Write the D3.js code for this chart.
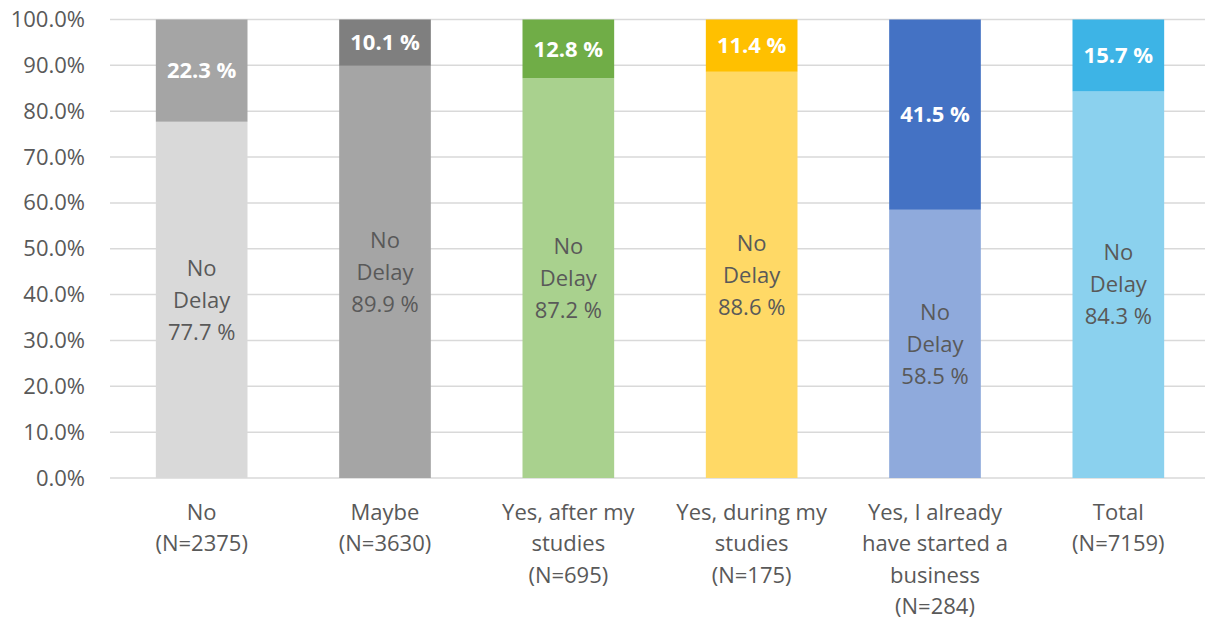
<!DOCTYPE html>
<html>
<head>
<meta charset="utf-8">
<script src="https://cdn.jsdelivr.net/npm/d3@7"></script>
<style>
  html, body { margin: 0; padding: 0; background: #fff; }
  svg { display: block; font-family: "Open Sans", "Noto Sans", sans-serif; }
</style>
</head>
<body>
<svg id="chart" width="1205" height="620"></svg>
<script>
// Answer groups and their sample sizes
const categories = ["No", "Maybe", "Yes, after my studies", "Yes, during my studies", "Yes, I already have started a business", "Total"];
const sampleSizes = [2375, 3630, 695, 175, 284, 7159];

// Share (%) per group
const noDelay = [77.7, 89.9, 87.2, 88.6, 58.5, 84.3];
const delay = [22.3, 10.1, 12.8, 11.4, 41.5, 15.7];

// Colours per group: lower (No Delay) and upper (Delay) segment
const lowerColors = ["#d9d9d9", "#a5a5a5", "#a9d18e", "#ffd966", "#8faadc", "#8bd1ee"];
const upperColors = ["#a5a5a5", "#7f7f7f", "#70ad47", "#ffc000", "#4472c4", "#3db4e6"];

const yTicks = [0, 10, 20, 30, 40, 50, 60, 70, 80, 90, 100];

const svg = d3.select("#chart");
const margin = { left: 110, right: -5, top: 19.5, bottom: 142 };
const W = 1205, H = 620;
const fontSize = "22px";

const x = d3.scaleBand()
  .domain(categories)
  .range([margin.left, W - margin.right])
  .paddingInner(0.5)
  .paddingOuter(0.25);

const y = d3.scaleLinear().domain([0, 100]).range([H - margin.bottom, margin.top]);

const textColor = "#595959";

// Gridlines
svg.append("g")
  .selectAll("line")
  .data(yTicks)
  .join("line")
  .attr("x1", margin.left)
  .attr("x2", W)
  .attr("y1", d => y(d))
  .attr("y2", d => y(d))
  .attr("stroke", "#d9d9d9")
  .attr("stroke-width", 1.5);

// Y axis labels
const yAxis = d3.axisLeft(y).tickValues(yTicks).tickFormat(d => d.toFixed(1) + "%").tickSize(0).tickPadding(0);
const yg = svg.append("g").attr("transform", `translate(${margin.left - 25},0)`).call(yAxis);
yg.select(".domain").remove();
yg.selectAll("text").attr("fill", textColor).style("font-size", fontSize).style("font-family", "'Open Sans', sans-serif");

const rows = categories.map((c, i) => ({ c, i, lo: noDelay[i], hi: delay[i] }));

// Lower segments
svg.append("g").selectAll("rect")
  .data(rows).join("rect")
  .attr("x", d => x(d.c))
  .attr("width", x.bandwidth())
  .attr("y", d => y(d.lo))
  .attr("height", d => y(0) - y(d.lo))
  .attr("fill", d => lowerColors[d.i]);

// Upper segments
svg.append("g").selectAll("rect")
  .data(rows).join("rect")
  .attr("x", d => x(d.c))
  .attr("width", x.bandwidth())
  .attr("y", d => y(d.lo + d.hi))
  .attr("height", d => y(d.lo) - y(d.lo + d.hi))
  .attr("fill", d => upperColors[d.i]);

const lineH = 32;

// Lower segment labels
const lowLab = svg.append("g").selectAll("text")
  .data(rows).join("text")
  .attr("text-anchor", "middle")
  .attr("fill", textColor)
  .style("font-size", fontSize)
  .attr("transform", d => `translate(${x(d.c) + x.bandwidth() / 2},${y(d.lo / 2)})`);
lowLab.each(function(d) {
  const lines = ["No", "Delay", d.lo.toFixed(1) + " %"];
  const t = d3.select(this);
  lines.forEach((s, k) => {
    t.append("tspan").attr("x", 0).attr("y", (k - 1) * lineH).attr("dy", "0.35em").text(s);
  });
});

// Upper segment labels
svg.append("g").selectAll("text")
  .data(rows).join("text")
  .attr("text-anchor", "middle")
  .attr("fill", "#ffffff")
  .attr("font-weight", "bold")
  .style("font-size", fontSize)
  .attr("x", d => x(d.c) + x.bandwidth() / 2)
  .attr("y", d => y(d.lo + d.hi / 2))
  .attr("dy", "0.35em")
  .text(d => d.hi.toFixed(1) + " %");

// Category labels with word wrapping, N on its own line
const catG = svg.append("g");
const maxW = 170;
const catTop = 512, catLineH = 31.5;
rows.forEach(d => {
  const t = catG.append("text")
    .attr("text-anchor", "middle")
    .attr("fill", textColor)
    .style("font-size", fontSize)
    .attr("x", x(d.c) + x.bandwidth() / 2)
    .attr("y", catTop);
  const words = d.c.split(" ");
  const lines = [];
  let cur = [];
  const probe = t.append("tspan");
  words.forEach(w => {
    const test = cur.concat([w]).join(" ");
    probe.text(test);
    if (probe.node().getComputedTextLength() > maxW && cur.length) {
      lines.push(cur.join(" "));
      cur = [w];
    } else {
      cur.push(w);
    }
  });
  if (cur.length) lines.push(cur.join(" "));
  probe.remove();
  lines.push("(N=" + sampleSizes[d.i] + ")");
  lines.forEach((s, k) => {
    t.append("tspan")
      .attr("x", x(d.c) + x.bandwidth() / 2)
      .attr("y", catTop + k * catLineH)
      .attr("dy", "0.35em")
      .text(s);
  });
});
</script>
</body>
</html>
